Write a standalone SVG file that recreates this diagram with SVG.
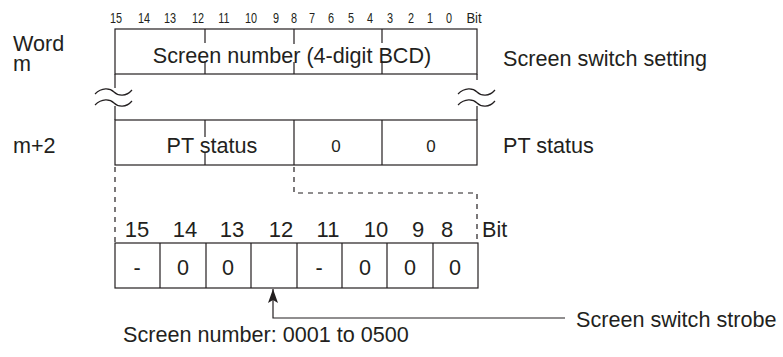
<svg xmlns="http://www.w3.org/2000/svg" width="783" height="357" viewBox="0 0 783 357">
<style>
text{font-family:"Liberation Sans",Arial,sans-serif;fill:#231f20}
.lbl{font-size:21.6px}
.cell{font-size:21.6px;text-anchor:middle}
.bn{font-size:14.5px;text-anchor:middle}
.bl{font-size:22px;text-anchor:middle}
.ln{stroke:#231f20;stroke-width:1.2;fill:none}
.dash{stroke:#231f20;stroke-width:1.2;fill:none;stroke-dasharray:5 5}
.box{stroke:#231f20;stroke-width:1.2;fill:#fff}
</style>
<defs>
<marker id="ah" markerWidth="14" markerHeight="10" refX="14" refY="5" orient="auto" markerUnits="userSpaceOnUse" viewBox="0 0 14 10">
<path d="M14,5 L0,0 L3,5 L0,10 Z" fill="#231f20"/>
</marker>
</defs>
<rect width="783" height="357" fill="#fff"/>

<g id="top-bits">
<text class="bn" transform="translate(116 23) scale(0.75 1)">15</text>
<text class="bn" transform="translate(144 23) scale(0.75 1)">14</text>
<text class="bn" transform="translate(170 23) scale(0.75 1)">13</text>
<text class="bn" transform="translate(198 23) scale(0.75 1)">12</text>
<text class="bn" transform="translate(224 23) scale(0.75 1)">11</text>
<text class="bn" transform="translate(251 23) scale(0.75 1)">10</text>
<text class="bn" transform="translate(276 23) scale(0.75 1)">9</text>
<text class="bn" transform="translate(294 23) scale(0.75 1)">8</text>
<text class="bn" transform="translate(312 23) scale(0.75 1)">7</text>
<text class="bn" transform="translate(331 23) scale(0.75 1)">6</text>
<text class="bn" transform="translate(351 23) scale(0.75 1)">5</text>
<text class="bn" transform="translate(370 23) scale(0.75 1)">4</text>
<text class="bn" transform="translate(390 23) scale(0.75 1)">3</text>
<text class="bn" transform="translate(411 23) scale(0.75 1)">2</text>
<text class="bn" transform="translate(430 23) scale(0.75 1)">1</text>
<text class="bn" transform="translate(449 23) scale(0.75 1)">0</text>
<text class="bn" transform="translate(474 23) scale(0.9 1)">Bit</text>
</g>

<g id="word-m">
<text class="lbl" x="13" y="51">Word</text>
<text class="lbl" x="13" y="71">m</text>
<rect class="box" x="115" y="29" width="362" height="45"/>
<path class="ln" d="M205,29V43M205,61V74M294,29V44M294,62V74M382,29V43M382,61V74"/>
<text class="cell" x="292" y="63">Screen number (4-digit BCD)</text>
<text class="lbl" x="503" y="66">Screen switch setting</text>
</g>

<g id="break">
<path class="ln" d="M115,74V88M115,106V120M477,74V80M477,106V120"/>
<path class="ln" d="M95,94C102,87 110,88 114,92C118,96 126,97 132,90"/>
<path class="ln" d="M95,105C102,98 110,99 114,103C118,107 126,108 132,101"/>
<path class="ln" d="M458,94C465,87 473,88 477,92C481,96 489,97 495,90"/>
<path class="ln" d="M458,105C465,98 473,99 477,103C481,107 489,108 495,101"/>
</g>

<g id="m2">
<text class="lbl" x="13" y="153">m+2</text>
<rect class="box" x="115" y="120" width="362" height="45"/>
<path class="ln" d="M294,120V165M382,120V165M205,120V137M205,153V165"/>
<text class="cell" x="212" y="153">PT status</text>
<text class="cell" x="336" y="152" style="font-size:17px">0</text>
<text class="cell" x="431" y="152" style="font-size:17px">0</text>
<text class="lbl" x="503" y="153">PT status</text>
</g>

<g id="connectors">
<path class="dash" d="M115,167V243"/>
<path class="dash" d="M294,167V193H477V243"/>
<path class="ln" d="M565,318H273V289" marker-end="url(#ah)"/>
</g>

<g id="detail">
<text class="bl" x="137" y="237">15</text>
<text class="bl" x="185" y="237">14</text>
<text class="bl" x="232" y="237">13</text>
<text class="bl" x="281" y="237">12</text>
<text class="bl" x="328" y="237">11</text>
<text class="bl" x="376" y="237">10</text>
<text class="bl" x="418" y="237">9</text>
<text class="bl" x="447" y="237">8</text>
<text class="lbl" x="482" y="237">Bit</text>
<rect class="box" x="115" y="243" width="363" height="45"/>
<path class="ln" d="M160,243V288M206,243V288M251,243V288M297,243V288M342,243V288M387,243V288M433,243V288"/>
<text class="cell" x="137" y="275">-</text>
<text class="cell" x="183" y="275">0</text>
<text class="cell" x="228" y="275">0</text>
<text class="cell" x="319" y="275">-</text>
<text class="cell" x="365" y="275">0</text>
<text class="cell" x="410" y="275">0</text>
<text class="cell" x="455" y="275">0</text>
</g>

<g id="labels">
<text class="lbl" x="576" y="327">Screen switch strobe</text>
<text class="lbl" x="123" y="342">Screen number: 0001 to 0500</text>
</g>
</svg>
